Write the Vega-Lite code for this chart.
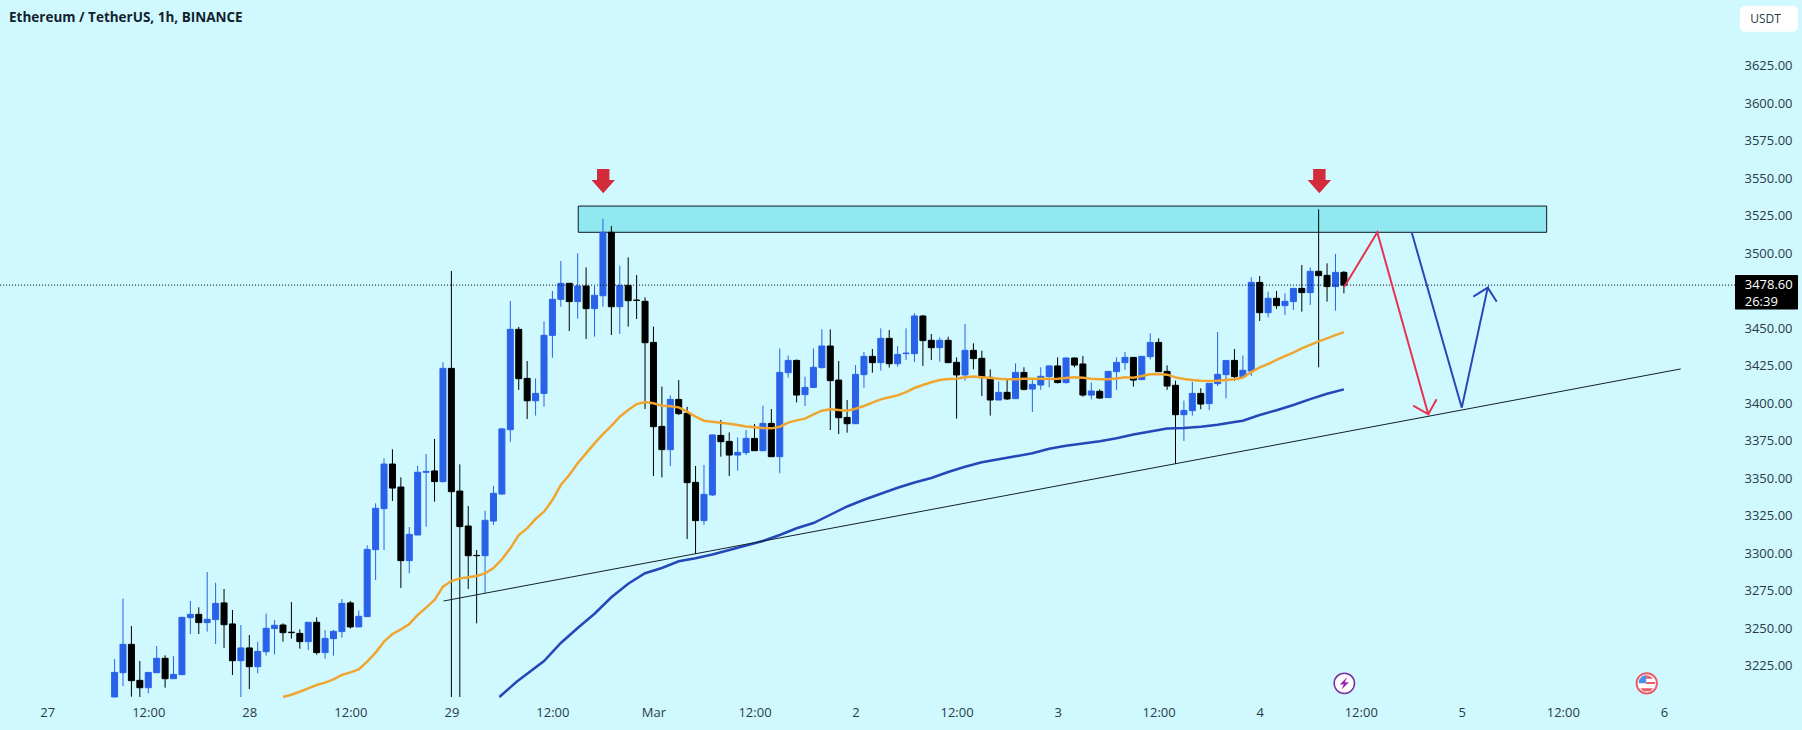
{"$schema":"https://vega.github.io/schema/vega-lite/v6.json","width":1802,"height":730,"padding":0,"autosize":{"type":"none"},"background":"#cff9ff","view":{"stroke":null},
"title":{"text":"Ethereum / TetherUS, 1h, BINANCE","anchor":"start","frame":"group","dx":9,"dy":28,"font":"Open Sans","fontSize":13.5,"fontWeight":700,"color":"#131f2e"},
"datasets":{
"candles":[
{"t":"2024-02-27T08:00Z","open":3204,"high":3229.3,"low":3204,"close":3220.4},
{"t":"2024-02-27T09:00Z","open":3220.2,"high":3269.6,"low":3211.3,"close":3239.1},
{"t":"2024-02-27T10:00Z","open":3239.1,"high":3251.3,"low":3204.2,"close":3214.9},
{"t":"2024-02-27T11:00Z","open":3215.1,"high":3228,"low":3204,"close":3210.2},
{"t":"2024-02-27T12:00Z","open":3210.2,"high":3220.4,"low":3206.4,"close":3220.4},
{"t":"2024-02-27T13:00Z","open":3220.2,"high":3238,"low":3220,"close":3229.8},
{"t":"2024-02-27T14:00Z","open":3229.8,"high":3231.8,"low":3210.2,"close":3216.2},
{"t":"2024-02-27T15:00Z","open":3216.2,"high":3231.3,"low":3216,"close":3219.1},
{"t":"2024-02-27T16:00Z","open":3218.9,"high":3257.5,"low":3218.9,"close":3257.1},
{"t":"2024-02-27T17:00Z","open":3256.9,"high":3268,"low":3246,"close":3259.1},
{"t":"2024-02-27T18:00Z","open":3259.1,"high":3263.8,"low":3246,"close":3253.6},
{"t":"2024-02-27T19:00Z","open":3253.6,"high":3287.3,"low":3247.6,"close":3255.8},
{"t":"2024-02-27T20:00Z","open":3255.6,"high":3280.2,"low":3239.3,"close":3266.4},
{"t":"2024-02-27T21:00Z","open":3266.7,"high":3276,"low":3236.7,"close":3252.2},
{"t":"2024-02-27T22:00Z","open":3252.7,"high":3262,"low":3218.7,"close":3228.2},
{"t":"2024-02-27T23:00Z","open":3228.2,"high":3252,"low":3204,"close":3236.7},
{"t":"2024-02-28T00:00Z","open":3236.7,"high":3245.3,"low":3209.3,"close":3224.2},
{"t":"2024-02-28T01:00Z","open":3224.2,"high":3240.9,"low":3219.8,"close":3234.4},
{"t":"2024-02-28T02:00Z","open":3234.2,"high":3259.6,"low":3231.6,"close":3249.8},
{"t":"2024-02-28T03:00Z","open":3249.6,"high":3255.3,"low":3232.4,"close":3251.8},
{"t":"2024-02-28T04:00Z","open":3252,"high":3253.1,"low":3240.9,"close":3246.9},
{"t":"2024-02-28T05:00Z","open":3247.2,"high":3267.3,"low":3242.9,"close":3246.9},
{"t":"2024-02-28T06:00Z","open":3246.4,"high":3249.1,"low":3236.2,"close":3240.9},
{"t":"2024-02-28T07:00Z","open":3240.9,"high":3253.8,"low":3235.3,"close":3253.8},
{"t":"2024-02-28T08:00Z","open":3253.8,"high":3257.1,"low":3232.2,"close":3233.6},
{"t":"2024-02-28T09:00Z","open":3233.6,"high":3248.7,"low":3229.6,"close":3243.1},
{"t":"2024-02-28T10:00Z","open":3242.9,"high":3248.7,"low":3231.6,"close":3247.8},
{"t":"2024-02-28T11:00Z","open":3247.6,"high":3269.3,"low":3243.6,"close":3266.4},
{"t":"2024-02-28T12:00Z","open":3266.7,"high":3268,"low":3249.6,"close":3250.7},
{"t":"2024-02-28T13:00Z","open":3250.7,"high":3261.6,"low":3250.7,"close":3257.8},
{"t":"2024-02-28T14:00Z","open":3257.6,"high":3305.1,"low":3257.6,"close":3302.4},
{"t":"2024-02-28T15:00Z","open":3302.2,"high":3333.1,"low":3282,"close":3329.8},
{"t":"2024-02-28T16:00Z","open":3329.6,"high":3363.1,"low":3302,"close":3359.3},
{"t":"2024-02-28T17:00Z","open":3359.3,"high":3369.1,"low":3334.7,"close":3343.3},
{"t":"2024-02-28T18:00Z","open":3344,"high":3350.4,"low":3276.7,"close":3294.9},
{"t":"2024-02-28T19:00Z","open":3294.9,"high":3317.3,"low":3286.4,"close":3312.4},
{"t":"2024-02-28T20:00Z","open":3312,"high":3358.2,"low":3312,"close":3353.8},
{"t":"2024-02-28T21:00Z","open":3353.8,"high":3366,"low":3317.6,"close":3354.4},
{"t":"2024-02-28T22:00Z","open":3354.7,"high":3376,"low":3334.2,"close":3347.6},
{"t":"2024-02-28T23:00Z","open":3347.6,"high":3427.1,"low":3347,"close":3423.1},
{"t":"2024-02-29T00:00Z","open":3423.1,"high":3488,"low":3204,"close":3340.9},
{"t":"2024-02-29T01:00Z","open":3341.3,"high":3359.1,"low":3204,"close":3317.6},
{"t":"2024-02-29T02:00Z","open":3318,"high":3331.3,"low":3276,"close":3298.2},
{"t":"2024-02-29T03:00Z","open":3298.4,"high":3302,"low":3253.1,"close":3298.2},
{"t":"2024-02-29T04:00Z","open":3298.2,"high":3328.2,"low":3273.1,"close":3321.8},
{"t":"2024-02-29T05:00Z","open":3321.3,"high":3344.7,"low":3318.7,"close":3339.8},
{"t":"2024-02-29T06:00Z","open":3339.3,"high":3383.5,"low":3339,"close":3382.7},
{"t":"2024-02-29T07:00Z","open":3382.2,"high":3468,"low":3374.2,"close":3449.1},
{"t":"2024-02-29T08:00Z","open":3449.1,"high":3450.7,"low":3408.7,"close":3416.2},
{"t":"2024-02-29T09:00Z","open":3416.4,"high":3428,"low":3389.3,"close":3401.5},
{"t":"2024-02-29T10:00Z","open":3401.5,"high":3416.4,"low":3391.6,"close":3406.4},
{"t":"2024-02-29T11:00Z","open":3406.4,"high":3454.4,"low":3397.5,"close":3445.1},
{"t":"2024-02-29T12:00Z","open":3445.1,"high":3474.7,"low":3430.2,"close":3469.1},
{"t":"2024-02-29T13:00Z","open":3469.1,"high":3494.7,"low":3464.2,"close":3479.8},
{"t":"2024-02-29T14:00Z","open":3479.8,"high":3480,"low":3448,"close":3467.6},
{"t":"2024-02-29T15:00Z","open":3467.6,"high":3499.8,"low":3456.2,"close":3478},
{"t":"2024-02-29T16:00Z","open":3478,"high":3490.4,"low":3442.7,"close":3462.9},
{"t":"2024-02-29T17:00Z","open":3462.9,"high":3478,"low":3444.2,"close":3471.8},
{"t":"2024-02-29T18:00Z","open":3471.5,"high":3522.7,"low":3464.2,"close":3513.8},
{"t":"2024-02-29T19:00Z","open":3513.8,"high":3518,"low":3445.3,"close":3464.2},
{"t":"2024-02-29T20:00Z","open":3464.2,"high":3491.6,"low":3446,"close":3478.4},
{"t":"2024-02-29T21:00Z","open":3478.4,"high":3497.1,"low":3450.9,"close":3468.2},
{"t":"2024-02-29T22:00Z","open":3468.6,"high":3485.3,"low":3456,"close":3468.4},
{"t":"2024-02-29T23:00Z","open":3467.8,"high":3470.4,"low":3396,"close":3440.2},
{"t":"2024-03-01T00:00Z","open":3440.4,"high":3450.9,"low":3351.3,"close":3384.2},
{"t":"2024-03-01T01:00Z","open":3384.4,"high":3410.9,"low":3350.4,"close":3368.9},
{"t":"2024-03-01T02:00Z","open":3368.9,"high":3405.1,"low":3358,"close":3402.4},
{"t":"2024-03-01T03:00Z","open":3402.4,"high":3415.3,"low":3392,"close":3392.9},
{"t":"2024-03-01T04:00Z","open":3393.1,"high":3397.5,"low":3309.3,"close":3346.9},
{"t":"2024-03-01T05:00Z","open":3347.1,"high":3358,"low":3299.3,"close":3321.6},
{"t":"2024-03-01T06:00Z","open":3321.6,"high":3358.7,"low":3318.7,"close":3339.1},
{"t":"2024-03-01T07:00Z","open":3338.7,"high":3379,"low":3338,"close":3378.7},
{"t":"2024-03-01T08:00Z","open":3378.4,"high":3388.7,"low":3364.2,"close":3374.2},
{"t":"2024-03-01T09:00Z","open":3374.4,"high":3380.4,"low":3351.3,"close":3365.3},
{"t":"2024-03-01T10:00Z","open":3365.3,"high":3377.1,"low":3354.9,"close":3367.1},
{"t":"2024-03-01T11:00Z","open":3366.9,"high":3382,"low":3365.3,"close":3376.4},
{"t":"2024-03-01T12:00Z","open":3376.4,"high":3386,"low":3368,"close":3368.2},
{"t":"2024-03-01T13:00Z","open":3368.2,"high":3398.2,"low":3368,"close":3386.4},
{"t":"2024-03-01T14:00Z","open":3386.4,"high":3396,"low":3364,"close":3364.2},
{"t":"2024-03-01T15:00Z","open":3364.2,"high":3436.4,"low":3353.1,"close":3420.4},
{"t":"2024-03-01T16:00Z","open":3420.2,"high":3431.6,"low":3416.9,"close":3428.4},
{"t":"2024-03-01T17:00Z","open":3428.4,"high":3429,"low":3400.4,"close":3405.3},
{"t":"2024-03-01T18:00Z","open":3405.6,"high":3417.6,"low":3398,"close":3410.4},
{"t":"2024-03-01T19:00Z","open":3410.4,"high":3436.4,"low":3410,"close":3423.8},
{"t":"2024-03-01T20:00Z","open":3423.6,"high":3449.1,"low":3423,"close":3438},
{"t":"2024-03-01T21:00Z","open":3438,"high":3449.1,"low":3382,"close":3414.9},
{"t":"2024-03-01T22:00Z","open":3415.3,"high":3428,"low":3379.3,"close":3390.2},
{"t":"2024-03-01T23:00Z","open":3390.4,"high":3402,"low":3380.2,"close":3386.2},
{"t":"2024-03-02T00:00Z","open":3386.2,"high":3425.3,"low":3386,"close":3419.1},
{"t":"2024-03-02T01:00Z","open":3418.9,"high":3434,"low":3410.2,"close":3431.1},
{"t":"2024-03-02T02:00Z","open":3431.1,"high":3436,"low":3420.2,"close":3426.9},
{"t":"2024-03-02T03:00Z","open":3426.9,"high":3449.8,"low":3421.6,"close":3443.1},
{"t":"2024-03-02T04:00Z","open":3443.1,"high":3448.7,"low":3423.6,"close":3426.2},
{"t":"2024-03-02T05:00Z","open":3426.2,"high":3438,"low":3424.2,"close":3432.4},
{"t":"2024-03-02T06:00Z","open":3432.9,"high":3449.8,"low":3428.7,"close":3433.3},
{"t":"2024-03-02T07:00Z","open":3432.9,"high":3459.8,"low":3427.3,"close":3458},
{"t":"2024-03-02T08:00Z","open":3458,"high":3458.7,"low":3424.7,"close":3441.6},
{"t":"2024-03-02T09:00Z","open":3441.8,"high":3446,"low":3428.7,"close":3436.9},
{"t":"2024-03-02T10:00Z","open":3436.9,"high":3443.8,"low":3427.6,"close":3441.8},
{"t":"2024-03-02T11:00Z","open":3441.8,"high":3444.2,"low":3426.9,"close":3426.9},
{"t":"2024-03-02T12:00Z","open":3427.1,"high":3430.4,"low":3389.6,"close":3418.7},
{"t":"2024-03-02T13:00Z","open":3418.7,"high":3452.7,"low":3414.9,"close":3435.1},
{"t":"2024-03-02T14:00Z","open":3435.1,"high":3439.8,"low":3422.4,"close":3429.6},
{"t":"2024-03-02T15:00Z","open":3429.8,"high":3434.9,"low":3404.7,"close":3416.9},
{"t":"2024-03-02T16:00Z","open":3417.1,"high":3422.4,"low":3391.6,"close":3402},
{"t":"2024-03-02T17:00Z","open":3402,"high":3414.4,"low":3402,"close":3407.1},
{"t":"2024-03-02T18:00Z","open":3407.1,"high":3416,"low":3402,"close":3402.7},
{"t":"2024-03-02T19:00Z","open":3402.9,"high":3426.4,"low":3402.7,"close":3420.4},
{"t":"2024-03-02T20:00Z","open":3420.4,"high":3423.8,"low":3408.4,"close":3409.1},
{"t":"2024-03-02T21:00Z","open":3409.3,"high":3416,"low":3394,"close":3412.4},
{"t":"2024-03-02T22:00Z","open":3412,"high":3423.8,"low":3408.7,"close":3417.8},
{"t":"2024-03-02T23:00Z","open":3417.6,"high":3425.1,"low":3410.4,"close":3424.7},
{"t":"2024-03-03T00:00Z","open":3424.7,"high":3430.4,"low":3413,"close":3413.6},
{"t":"2024-03-03T01:00Z","open":3413.6,"high":3430.4,"low":3413,"close":3430},
{"t":"2024-03-03T02:00Z","open":3430,"high":3430.4,"low":3423.8,"close":3425.3},
{"t":"2024-03-03T03:00Z","open":3426,"high":3431.3,"low":3404.2,"close":3405.3},
{"t":"2024-03-03T04:00Z","open":3405.3,"high":3413.6,"low":3402.4,"close":3408},
{"t":"2024-03-03T05:00Z","open":3407.8,"high":3409.1,"low":3402.9,"close":3403.3},
{"t":"2024-03-03T06:00Z","open":3403.6,"high":3421.1,"low":3403.6,"close":3421.1},
{"t":"2024-03-03T07:00Z","open":3420.9,"high":3430.4,"low":3408.7,"close":3427.1},
{"t":"2024-03-03T08:00Z","open":3426.9,"high":3434,"low":3422,"close":3430.4},
{"t":"2024-03-03T09:00Z","open":3430.4,"high":3430.4,"low":3410.9,"close":3415.3},
{"t":"2024-03-03T10:00Z","open":3415.6,"high":3431.3,"low":3415.4,"close":3431.1},
{"t":"2024-03-03T11:00Z","open":3430.9,"high":3446.4,"low":3429.1,"close":3440.4},
{"t":"2024-03-03T12:00Z","open":3440.4,"high":3443.1,"low":3420.9,"close":3420.9},
{"t":"2024-03-03T13:00Z","open":3421.1,"high":3425.1,"low":3408.7,"close":3411.3},
{"t":"2024-03-03T14:00Z","open":3411.8,"high":3414.9,"low":3359.3,"close":3392.2},
{"t":"2024-03-03T15:00Z","open":3392.2,"high":3401.6,"low":3374.7,"close":3395.1},
{"t":"2024-03-03T16:00Z","open":3394.9,"high":3414.2,"low":3391.6,"close":3406.4},
{"t":"2024-03-03T17:00Z","open":3406.4,"high":3409.8,"low":3395.8,"close":3399.3},
{"t":"2024-03-03T18:00Z","open":3399.6,"high":3413.1,"low":3395.3,"close":3413.1},
{"t":"2024-03-03T19:00Z","open":3412.9,"high":3447.3,"low":3411.3,"close":3419.1},
{"t":"2024-03-03T20:00Z","open":3418.9,"high":3428.4,"low":3403.1,"close":3428.4},
{"t":"2024-03-03T21:00Z","open":3428.4,"high":3436,"low":3414.9,"close":3417.6},
{"t":"2024-03-03T22:00Z","open":3417.6,"high":3431.6,"low":3417,"close":3421.8},
{"t":"2024-03-03T23:00Z","open":3421.3,"high":3483.8,"low":3418,"close":3480.4},
{"t":"2024-03-04T00:00Z","open":3480.4,"high":3484.7,"low":3454.7,"close":3460.2},
{"t":"2024-03-04T01:00Z","open":3460.2,"high":3474.2,"low":3457.1,"close":3469.8},
{"t":"2024-03-04T02:00Z","open":3469.8,"high":3474.7,"low":3462.7,"close":3464.9},
{"t":"2024-03-04T03:00Z","open":3464.9,"high":3473.1,"low":3458.7,"close":3467.8},
{"t":"2024-03-04T04:00Z","open":3467.6,"high":3476.4,"low":3462,"close":3476.4},
{"t":"2024-03-04T05:00Z","open":3476.4,"high":3492,"low":3460.9,"close":3473.6},
{"t":"2024-03-04T06:00Z","open":3473.6,"high":3490.4,"low":3465.3,"close":3487.8},
{"t":"2024-03-04T07:00Z","open":3487.8,"high":3529.1,"low":3423.8,"close":3484.9},
{"t":"2024-03-04T08:00Z","open":3485.1,"high":3493.1,"low":3467.6,"close":3477.6},
{"t":"2024-03-04T09:00Z","open":3477.6,"high":3499.3,"low":3461.6,"close":3487.1},
{"t":"2024-03-04T10:00Z","open":3487.1,"high":3488,"low":3473.1,"close":3478.6}
],
"ema50":[
{"t":"2024-02-28T04:00Z","p":3204},{"t":"2024-02-28T05:00Z","p":3205.5},{"t":"2024-02-28T06:00Z","p":3207.5},{"t":"2024-02-28T07:00Z","p":3209.8},{"t":"2024-02-28T08:00Z","p":3212},{"t":"2024-02-28T09:00Z","p":3213.6},{"t":"2024-02-28T10:00Z","p":3215.8},{"t":"2024-02-28T11:00Z","p":3218.7},{"t":"2024-02-28T12:00Z","p":3220.4},{"t":"2024-02-28T13:00Z","p":3222.4},{"t":"2024-02-28T14:00Z","p":3227.6},{"t":"2024-02-28T15:00Z","p":3233.6},{"t":"2024-02-28T16:00Z","p":3240.9},{"t":"2024-02-28T17:00Z","p":3246},{"t":"2024-02-28T18:00Z","p":3249.1},{"t":"2024-02-28T19:00Z","p":3252.7},{"t":"2024-02-28T20:00Z","p":3258.7},{"t":"2024-02-28T21:00Z","p":3263.6},{"t":"2024-02-28T22:00Z","p":3268.7},{"t":"2024-02-28T23:00Z","p":3277.6},
{"t":"2024-02-29T00:00Z","p":3281.3},{"t":"2024-02-29T01:00Z","p":3283.1},{"t":"2024-02-29T02:00Z","p":3283.8},{"t":"2024-02-29T03:00Z","p":3284.7},{"t":"2024-02-29T04:00Z","p":3286.4},{"t":"2024-02-29T05:00Z","p":3290},{"t":"2024-02-29T06:00Z","p":3295.8},{"t":"2024-02-29T07:00Z","p":3303.1},{"t":"2024-02-29T08:00Z","p":3312},{"t":"2024-02-29T09:00Z","p":3316.4},{"t":"2024-02-29T10:00Z","p":3322.7},{"t":"2024-02-29T11:00Z","p":3327.5},{"t":"2024-02-29T12:00Z","p":3335.3},{"t":"2024-02-29T13:00Z","p":3345.3},{"t":"2024-02-29T14:00Z","p":3352},{"t":"2024-02-29T15:00Z","p":3359.8},{"t":"2024-02-29T16:00Z","p":3366.4},{"t":"2024-02-29T17:00Z","p":3373.1},{"t":"2024-02-29T18:00Z","p":3379.3},{"t":"2024-02-29T19:00Z","p":3384.7},{"t":"2024-02-29T20:00Z","p":3390.9},{"t":"2024-02-29T21:00Z","p":3395.3},{"t":"2024-02-29T22:00Z","p":3399.3},{"t":"2024-02-29T23:00Z","p":3400.7},
{"t":"2024-03-01T00:00Z","p":3399.8},{"t":"2024-03-01T01:00Z","p":3398.2},{"t":"2024-03-01T02:00Z","p":3397.8},{"t":"2024-03-01T03:00Z","p":3397.1},{"t":"2024-03-01T04:00Z","p":3394.2},{"t":"2024-03-01T05:00Z","p":3390.9},{"t":"2024-03-01T06:00Z","p":3388.2},{"t":"2024-03-01T07:00Z","p":3387.5},{"t":"2024-03-01T08:00Z","p":3386.9},{"t":"2024-03-01T09:00Z","p":3386.2},{"t":"2024-03-01T10:00Z","p":3385.3},{"t":"2024-03-01T11:00Z","p":3384.4},{"t":"2024-03-01T12:00Z","p":3383.8},{"t":"2024-03-01T13:00Z","p":3383.3},{"t":"2024-03-01T14:00Z","p":3383.1},{"t":"2024-03-01T15:00Z","p":3384.2},{"t":"2024-03-01T16:00Z","p":3386.9},{"t":"2024-03-01T17:00Z","p":3388.4},{"t":"2024-03-01T18:00Z","p":3389.6},{"t":"2024-03-01T19:00Z","p":3392.4},{"t":"2024-03-01T20:00Z","p":3394.9},{"t":"2024-03-01T21:00Z","p":3395.8},{"t":"2024-03-01T22:00Z","p":3395.3},{"t":"2024-03-01T23:00Z","p":3394.9},
{"t":"2024-03-02T00:00Z","p":3396.2},{"t":"2024-03-02T01:00Z","p":3398},{"t":"2024-03-02T02:00Z","p":3400.2},{"t":"2024-03-02T03:00Z","p":3402.4},{"t":"2024-03-02T04:00Z","p":3403.8},{"t":"2024-03-02T05:00Z","p":3405.1},{"t":"2024-03-02T06:00Z","p":3407.3},{"t":"2024-03-02T07:00Z","p":3410},{"t":"2024-03-02T08:00Z","p":3412},{"t":"2024-03-02T09:00Z","p":3413.8},{"t":"2024-03-02T10:00Z","p":3415.3},{"t":"2024-03-02T11:00Z","p":3416},{"t":"2024-03-02T12:00Z","p":3416.2},{"t":"2024-03-02T13:00Z","p":3417.1},{"t":"2024-03-02T14:00Z","p":3417.6},{"t":"2024-03-02T15:00Z","p":3417.1},{"t":"2024-03-02T16:00Z","p":3416.7},{"t":"2024-03-02T17:00Z","p":3416.2},{"t":"2024-03-02T18:00Z","p":3415.8},{"t":"2024-03-02T19:00Z","p":3415.8},{"t":"2024-03-02T20:00Z","p":3416.2},{"t":"2024-03-02T21:00Z","p":3416.2},{"t":"2024-03-02T22:00Z","p":3416.2},{"t":"2024-03-02T23:00Z","p":3416},
{"t":"2024-03-03T00:00Z","p":3416.2},{"t":"2024-03-03T01:00Z","p":3416.7},{"t":"2024-03-03T02:00Z","p":3417.1},{"t":"2024-03-03T03:00Z","p":3416.9},{"t":"2024-03-03T04:00Z","p":3416.2},{"t":"2024-03-03T05:00Z","p":3415.8},{"t":"2024-03-03T06:00Z","p":3415.8},{"t":"2024-03-03T07:00Z","p":3416.4},{"t":"2024-03-03T08:00Z","p":3417.1},{"t":"2024-03-03T09:00Z","p":3416.9},{"t":"2024-03-03T10:00Z","p":3418},{"t":"2024-03-03T11:00Z","p":3419.1},{"t":"2024-03-03T12:00Z","p":3419.3},{"t":"2024-03-03T13:00Z","p":3418.9},{"t":"2024-03-03T14:00Z","p":3417.1},{"t":"2024-03-03T15:00Z","p":3416},{"t":"2024-03-03T16:00Z","p":3415.3},{"t":"2024-03-03T17:00Z","p":3414.9},{"t":"2024-03-03T18:00Z","p":3414.7},{"t":"2024-03-03T19:00Z","p":3414.9},{"t":"2024-03-03T20:00Z","p":3415.3},{"t":"2024-03-03T21:00Z","p":3415.8},{"t":"2024-03-03T22:00Z","p":3416.9},{"t":"2024-03-03T23:00Z","p":3420.7},
{"t":"2024-03-04T00:00Z","p":3423.8},{"t":"2024-03-04T01:00Z","p":3426},{"t":"2024-03-04T02:00Z","p":3428.7},{"t":"2024-03-04T03:00Z","p":3431.3},{"t":"2024-03-04T04:00Z","p":3433.6},{"t":"2024-03-04T05:00Z","p":3436.4},{"t":"2024-03-04T06:00Z","p":3438.7},{"t":"2024-03-04T07:00Z","p":3441.1},{"t":"2024-03-04T08:00Z","p":3443.1},{"t":"2024-03-04T09:00Z","p":3445.3},{"t":"2024-03-04T10:00Z","p":3447.3}
],
"ema200":[
{"t":"2024-02-29T05:42Z","p":3204},{"t":"2024-02-29T07:45Z","p":3214.2},{"t":"2024-02-29T11:00Z","p":3228},{"t":"2024-02-29T13:00Z","p":3240},{"t":"2024-02-29T15:00Z","p":3250},{"t":"2024-02-29T17:00Z","p":3259.5},{"t":"2024-02-29T19:00Z","p":3270.5},{"t":"2024-02-29T21:00Z","p":3279.5},{"t":"2024-02-29T23:00Z","p":3286.5},
{"t":"2024-03-01T01:00Z","p":3290},{"t":"2024-03-01T03:00Z","p":3294.5},{"t":"2024-03-01T05:00Z","p":3296.5},{"t":"2024-03-01T07:00Z","p":3299},{"t":"2024-03-01T09:00Z","p":3302},{"t":"2024-03-01T11:00Z","p":3305},{"t":"2024-03-01T13:00Z","p":3308},{"t":"2024-03-01T15:00Z","p":3312},{"t":"2024-03-01T17:00Z","p":3316.5},{"t":"2024-03-01T19:00Z","p":3320},{"t":"2024-03-01T21:00Z","p":3325.5},{"t":"2024-03-01T23:00Z","p":3331},
{"t":"2024-03-02T01:00Z","p":3335.5},{"t":"2024-03-02T03:00Z","p":3339.5},{"t":"2024-03-02T05:00Z","p":3343.5},{"t":"2024-03-02T07:00Z","p":3347},{"t":"2024-03-02T09:00Z","p":3350},{"t":"2024-03-02T11:00Z","p":3354},{"t":"2024-03-02T13:00Z","p":3357.5},{"t":"2024-03-02T15:00Z","p":3360.5},{"t":"2024-03-02T17:00Z","p":3362.5},{"t":"2024-03-02T19:00Z","p":3364.5},{"t":"2024-03-02T21:00Z","p":3366.5},{"t":"2024-03-02T23:00Z","p":3369.5},
{"t":"2024-03-03T01:00Z","p":3371.5},{"t":"2024-03-03T03:00Z","p":3373},{"t":"2024-03-03T05:00Z","p":3374.5},{"t":"2024-03-03T07:00Z","p":3376.5},{"t":"2024-03-03T09:00Z","p":3379},{"t":"2024-03-03T11:00Z","p":3381},{"t":"2024-03-03T13:00Z","p":3383},{"t":"2024-03-03T15:00Z","p":3383.4},{"t":"2024-03-03T17:00Z","p":3384.2},{"t":"2024-03-03T19:00Z","p":3385.5},{"t":"2024-03-03T21:00Z","p":3387.3},{"t":"2024-03-03T22:00Z","p":3388.2},
{"t":"2024-03-04T00:00Z","p":3392},{"t":"2024-03-04T02:00Z","p":3395.2},{"t":"2024-03-04T04:00Z","p":3398.7},{"t":"2024-03-04T06:00Z","p":3402.6},{"t":"2024-03-04T08:00Z","p":3406.2},{"t":"2024-03-04T10:00Z","p":3409.1}
],
"zone":[{"t":"2024-02-29T15:04Z","t2":"2024-03-05T10:05Z","p":3531.3,"p2":3513.8}],
"lastPrice":[{"t":"2024-02-26T18:24Z","t2":"2024-03-06T08:27Z","p":3478.6}],
"trend":[{"t":"2024-02-28T23:04Z","p":3268},{"t":"2024-03-06T02:00Z","p":3422.7}],
"redPath":[{"i":1,"t":"2024-03-04T10:03Z","p":3477.5},{"i":2,"t":"2024-03-04T13:58Z","p":3513.8},{"i":3,"t":"2024-03-04T20:01Z","p":3392.5},{"i":4,"t":"2024-03-04T18:14Z","p":3398.2},{"i":5,"t":"2024-03-04T20:01Z","p":3392.5},{"i":6,"t":"2024-03-04T21:01Z","p":3402.5}],
"bluePath":[{"i":1,"t":"2024-03-04T18:03Z","p":3513.8},{"i":2,"t":"2024-03-05T00:00Z","p":3396.9},{"i":3,"t":"2024-03-05T03:05Z","p":3476.9},{"i":4,"t":"2024-03-05T01:22Z","p":3470.9},{"i":5,"t":"2024-03-05T03:05Z","p":3476.9},{"i":6,"t":"2024-03-05T04:09Z","p":3467.5}],
"arrows":[{"t":"2024-02-29T18:02Z","p":3547.9},{"t":"2024-03-04T07:05Z","p":3547.9}],
"priceBox":[{"t":"2024-03-06T08:27Z","t2":"2024-03-06T15:56Z","p":3485.3,"p2":3462.3}],
"unitBox":[{"t":"2024-03-06T09:02Z","t2":"2024-03-06T15:56Z","p":3664.9,"p2":3647.5}],
"boxText":[{"t":"2024-03-06T09:36Z","p":3478.7,"label":"3478.60","weight":"bold"},{"t":"2024-03-06T09:36Z","p":3467.5,"label":"26:39","weight":"normal"}],
"unitText":[{"t":"2024-03-06T12:05Z","p":3656,"label":"USDT"}],
"iconE":[{"t":"2024-03-04T10:03Z","p":3213.1}],
"iconF":[{"t":"2024-03-05T21:58Z","p":3213.1}]
},
"data":{"name":"candles"},
"encoding":{
"x":{"field":"t","type":"temporal","title":null,"scale":{"type":"utc","padding":0,"domain":[1708971811200,1709742261600]},
"axis":{"orient":"bottom","offset":-24,"domain":false,"ticks":false,"grid":false,"labelPadding":0,"labelFont":"Open Sans","labelFontSize":13,"labelColor":"#2a3a46","labelBaseline":"top","labelOverlap":false,"labelFlush":false,
"values":[1708992000000,1709035200000,1709078400000,1709121600000,1709164800000,1709208000000,1709251200000,1709294400000,1709337600000,1709380800000,1709424000000,1709467200000,1709510400000,1709553600000,1709596800000,1709640000000,1709683200000],
"labelExpr":"utchours(datum.value)==12?'12:00':(utcdate(datum.value)==1?'Mar':''+utcdate(datum.value))"}},
"y":{"field":"p","type":"quantitative","title":null,"scale":{"domain":[3182,3668.67],"nice":false,"zero":false},
"axis":{"orient":"right","offset":-58,"domain":false,"ticks":false,"grid":false,"labelPadding":0,"labelFont":"Open Sans","labelFontSize":13,"labelColor":"#2a3a46","labelAlign":"left","format":".2f","labelOverlap":false,"labelFlush":false,
"values":[3225,3250,3275,3300,3325,3350,3375,3400,3425,3450,3500,3525,3550,3575,3600,3625]}}
},
"layer":[
{"data":{"name":"zone"},"mark":{"type":"rect","fill":"#90e8f0","stroke":"#101820","strokeWidth":1},"encoding":{"x2":{"field":"t2"},"y2":{"field":"p2"}}},
{"mark":{"type":"rule","strokeWidth":1},"encoding":{"y":{"field":"low","type":"quantitative","title":null},"y2":{"field":"high"},"color":{"condition":{"test":"datum.close>=datum.open","value":"#2962e8"},"value":"#000000"}}},
{"mark":{"type":"bar","size":6,"strokeWidth":1},"encoding":{"y":{"field":"open","type":"quantitative","title":null},"y2":{"field":"close"},"fill":{"condition":{"test":"datum.close>=datum.open","value":"#2962e8"},"value":"#000000"},"stroke":{"condition":{"test":"datum.close>=datum.open","value":"#2962e8"},"value":"#000000"}}},
{"data":{"name":"lastPrice"},"mark":{"type":"rule","color":"#000000","strokeWidth":1,"strokeDash":[1,2]},"encoding":{"x2":{"field":"t2"}}},
{"data":{"name":"ema50"},"mark":{"type":"line","color":"#f0a530","strokeWidth":2.5}},
{"data":{"name":"ema200"},"mark":{"type":"line","color":"#2448b8","strokeWidth":2.5}},
{"data":{"name":"trend"},"mark":{"type":"line","color":"#14202c","strokeWidth":1}},
{"data":{"name":"redPath"},"mark":{"type":"line","color":"#e8324f","strokeWidth":2},"encoding":{"order":{"field":"i","type":"quantitative"}}},
{"data":{"name":"bluePath"},"mark":{"type":"line","color":"#2848b8","strokeWidth":2},"encoding":{"order":{"field":"i","type":"quantitative"}}},
{"data":{"name":"arrows"},"mark":{"type":"point","filled":true,"color":"#d32a3c","opacity":1,"size":529,"shape":"M-0.54,-1.06 L0.54,-1.06 L0.54,-0.1 L1.02,-0.1 L0,1.06 L-1.02,-0.1 L-0.54,-0.1 Z"}},
{"data":{"name":"priceBox"},"mark":{"type":"rect","fill":"#000000","cornerRadius":1},"encoding":{"x2":{"field":"t2"},"y2":{"field":"p2"}}},
{"data":{"name":"unitBox"},"mark":{"type":"rect","fill":"#ffffff","cornerRadius":5},"encoding":{"x2":{"field":"t2"},"y2":{"field":"p2"}}},
{"data":{"name":"boxText"},"mark":{"type":"text","align":"left","baseline":"middle","color":"#ffffff","font":"Open Sans","fontSize":13},"encoding":{"text":{"field":"label"},"fontWeight":{"field":"weight","type":"nominal","scale":null}}},
{"data":{"name":"unitText"},"mark":{"type":"text","align":"center","baseline":"middle","color":"#2a3a46","font":"Open Sans","fontSize":12},"encoding":{"text":{"field":"label"}}},
{"data":{"name":"iconE"},"mark":{"type":"point","shape":"circle","filled":true,"fill":"#ffffff","stroke":"#7b2fa0","strokeWidth":1.5,"opacity":1,"size":415}},
{"data":{"name":"iconE"},"mark":{"type":"point","filled":true,"color":"#9c27b0","opacity":1,"size":529,"shape":"M0.25,-0.55 L-0.4,0.1 L-0.05,0.1 L-0.25,0.55 L0.4,-0.1 L0.05,-0.1 Z"}},
{"data":{"name":"iconF"},"mark":{"type":"point","shape":"circle","filled":true,"fill":"#ffffff","stroke":"#ee5a6a","strokeWidth":2,"opacity":1,"size":415}},
{"data":{"name":"iconF"},"mark":{"type":"point","filled":true,"color":"#4a90e2","opacity":1,"size":529,"shape":"M-0.7,0 L-0.68,-0.3 L-0.4,-0.62 L-0.05,-0.72 L-0.05,0 Z"}},
{"data":{"name":"iconF"},"mark":{"type":"point","filled":true,"color":"#ee5a6a","opacity":1,"size":529,"shape":"M-0.05,-0.72 L0.3,-0.62 L0.55,-0.4 L-0.05,-0.4 Z M-0.05,-0.12 L0.72,-0.12 L0.72,0.06 L-0.05,0.06 Z M-0.55,0.42 L0.55,0.42 L0.3,0.68 L-0.3,0.68 Z"}}
]}
